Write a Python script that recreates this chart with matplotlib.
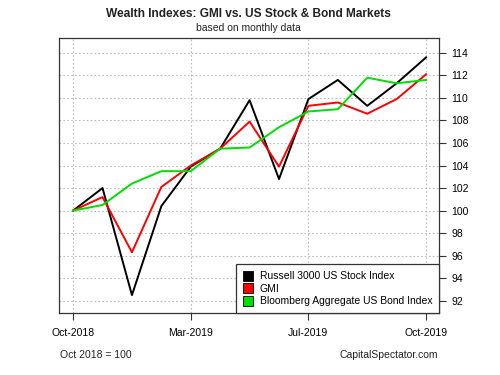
"""
Wealth indexes chart: GMI vs US stock & bond markets
"""

import matplotlib
matplotlib.use('Agg')
import matplotlib.pyplot as plt
from matplotlib.lines import Line2D

plt.rcParams['font.family'] = ['Liberation Sans', 'DejaVu Sans']

# monthly index values, Oct 2018 = 100
russell = [100.0, 102.0, 92.5, 100.4, 103.9, 105.5, 109.8, 102.8, 109.9, 111.6, 109.3, 111.3, 113.6]
gmi = [100.0, 101.2, 96.3, 102.1, 104.0, 105.5, 107.9, 103.9, 109.3, 109.6, 108.6, 109.9, 112.1]
bond = [100.0, 100.5, 102.4, 103.5, 103.5, 105.5, 105.6, 107.4, 108.8, 109.0, 111.8, 111.3, 111.6]

x_ticks = [0, 4, 8, 12]
x_labels = ['Oct-2018', 'Mar-2019', 'Jul-2019', 'Oct-2019']
y_ticks = list(range(92, 115, 2))

series = [
    ('Russell 3000 US Stock Index', russell, '#000000'),
    ('GMI', gmi, '#ff0000'),
    ('Bloomberg Aggregate US Bond Index', bond, '#00dd00'),
]

fig = plt.figure(figsize=(5, 3.75), dpi=100)
ax = fig.add_axes([0.118, 0.165, 0.76, 0.733])

x = list(range(len(russell)))
for name, vals, color in series:
    ax.plot(x, vals, color=color, lw=1.4)

ax.set_xlim(-0.48, 12.44)
ax.set_ylim(90.9, 115.3)

ax.set_xticks(x_ticks)
ax.set_xticklabels(x_labels, fontsize=7.5)
ax.set_yticks(y_ticks)
ax.set_yticklabels([str(v) for v in y_ticks], fontsize=7.5)
ax.yaxis.tick_right()
ax.tick_params(axis='both', direction='out', length=5, width=0.8, color='#333333')
ax.tick_params(axis='x', pad=5.5)
ax.tick_params(axis='y', pad=4)

ax.grid(True, linestyle=(0, (1.5, 2)), color='#bbbbbb', lw=0.8)
for sp in ax.spines.values():
    sp.set_color('#333333')
    sp.set_linewidth(0.9)

handles = [Line2D([], [], ls='none', marker='s', markersize=6.5,
                  markerfacecolor=c, markeredgecolor='black', markeredgewidth=0.6)
           for _, _, c in series]
leg = ax.legend(handles, [s[0] for s in series], loc='lower right', fontsize=7.5,
                frameon=True, fancybox=False, edgecolor='#333333', framealpha=1,
                handlelength=1.0, handletextpad=0.6, labelspacing=0.25,
                borderpad=0.65, borderaxespad=0)
leg.get_frame().set_linewidth(0.9)

fig.text(0.496, 0.962, 'Wealth Indexes: GMI vs. US Stock & Bond Markets',
         ha='center', va='center', fontsize=8.6, fontweight='bold', color='#222222')
fig.text(0.496, 0.925, 'based on monthly data', ha='center', va='center',
         fontsize=7.5, color='#222222')
fig.text(0.12, 0.053, 'Oct 2018 = 100', ha='left', va='center', fontsize=7.5, color='#222222')
fig.text(0.877, 0.053, 'CapitalSpectator.com', ha='right', va='center',
         fontsize=7.5, color='#222222')

fig.savefig('out.png', dpi=100)
